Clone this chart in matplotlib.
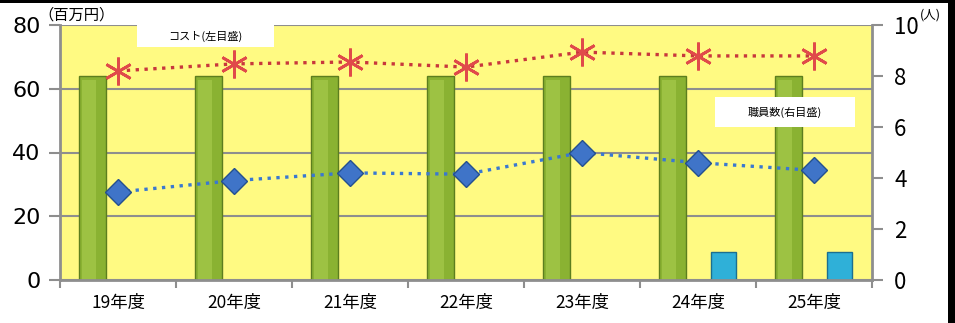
import numpy as np
import matplotlib.pyplot as plt
from matplotlib.patches import Rectangle

plt.rcParams['font.family'] = ['Noto Sans CJK JP', 'DejaVu Sans']

# 年度別のコストと職員数
years = ['19年度', '20年度', '21年度', '22年度', '23年度', '24年度', '25年度']
cost_bar = [64, 64, 64, 64, 64, 64, 64]          # 百万円
extra_bar = [np.nan, np.nan, np.nan, np.nan, np.nan, 8.8, 8.8]  # 百万円
cost_line = [65.6, 67.8, 68.4, 66.8, 71.5, 70.3, 70.3]  # 百万円
staff = [3.45, 3.9, 4.2, 4.15, 5.0, 4.6, 4.3]     # 人

W, H = 955, 323
fig = plt.figure(figsize=(W / 100, H / 100), dpi=100)
ax = fig.add_axes([60 / W, 1 - 280 / H, 812 / W, 255 / H])
ax.set_facecolor('#FFFA82')
x = np.arange(len(years))

ax.bar(x - 0.22, cost_bar, width=0.24, color='#8AB232', edgecolor='#5C7E1E',
       linewidth=1, zorder=2)
# 棒の明るい部分
ax.bar(x - 0.25, [c - 1.2 for c in cost_bar], width=0.12, color='#9DC243',
       linewidth=0, zorder=2)
ax.bar(x + 0.22, extra_bar, width=0.22, color='#2FB0D8', edgecolor='#1B6F90',
       linewidth=1, zorder=2)

ax.plot(x, cost_line, linestyle=':', color='#C8373C', linewidth=2.4,
        marker=(6, 2, 0), markersize=20, markeredgewidth=2,
        markeredgecolor='#E04A4A', zorder=4)

ax.set_xlim(-0.5, len(years) - 0.5)
ax.set_ylim(0, 80)
ax.set_yticks([0, 20, 40, 60, 80])
ax.yaxis.grid(True, color='#8E8E8E', linewidth=1.5, zorder=1)
ax.set_axisbelow(True)
ax.set_xticks(np.arange(len(years) + 1) - 0.5)
ax.set_xticklabels([])
ax.set_xticks(x, minor=True)
ax.set_xticklabels(years, minor=True, fontsize=12.5)
ax.tick_params(axis='x', which='minor', length=0, pad=10)
ax.tick_params(axis='x', which='major', length=6, color='#8E8E8E', width=1.5)
ax.tick_params(axis='y', length=8, color='#8E8E8E', width=1.5, labelsize=16,
               pad=6)
for lab in ax.get_yticklabels():
    lab.set_family('DejaVu Sans')
for s in ['top', 'right']:
    ax.spines[s].set_visible(False)
for s in ['left', 'bottom']:
    ax.spines[s].set_color('#8E8E8E')
    ax.spines[s].set_linewidth(2)

ax2 = ax.twinx()
ax2.plot(x, staff, linestyle=':', color='#3A78D0', linewidth=2.4,
         marker='D', markersize=13, markerfacecolor='#3F74C8',
         markeredgecolor='#24508F', zorder=4)
ax2.set_ylim(0, 10)
ax2.set_yticks([0, 2, 4, 6, 8, 10])
ax2.tick_params(axis='y', length=8, color='#8E8E8E', width=1.5, labelsize=16,
                pad=8)
for s in ['top', 'left', 'bottom']:
    ax2.spines[s].set_visible(False)
ax2.spines['right'].set_color('#8E8E8E')
ax2.spines['right'].set_linewidth(2)

# 単位
fig.text(38 / W, 1 - 15 / H, '（百万円）', fontsize=11, va='center', ha='left')
fig.text(920 / W, 1 - 15 / H, '(人)', fontsize=9, va='center', ha='left')

# 凡例の白い枠
fig.patches.append(Rectangle((137 / W, 1 - 47 / H), 137 / W, 22 / H,
                             transform=fig.transFigure, facecolor='white',
                             edgecolor='none', zorder=5))
fig.text(205 / W, 1 - 36 / H, 'コスト(左目盛)', fontsize=8, ha='center',
         va='center', zorder=6)
fig.patches.append(Rectangle((715 / W, 1 - 127 / H), 140 / W, 30 / H,
                             transform=fig.transFigure, facecolor='white',
                             edgecolor='none', zorder=5))
fig.text(785 / W, 1 - 112 / H, '職員数(右目盛)', fontsize=8, ha='center',
         va='center', zorder=6)

# 枠線（上と右）
fig.patches.append(Rectangle((0, 1 - 3 / H), 1, 3 / H, transform=fig.transFigure,
                             facecolor='black', edgecolor='none', zorder=7))
fig.patches.append(Rectangle((948 / W, 0), 7 / W, 1, transform=fig.transFigure,
                             facecolor='black', edgecolor='none', zorder=7))

fig.savefig('out.png', dpi=100)
